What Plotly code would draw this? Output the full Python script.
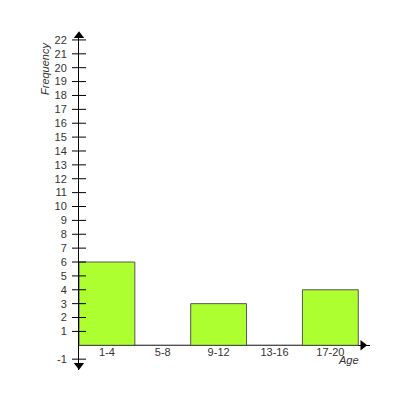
import plotly.graph_objects as go

# Data
age_groups = ["1-4", "5-8", "9-12", "13-16", "17-20"]
frequency = [6, 0, 3, 0, 4]
y_ticks = [-1] + list(range(1, 23))

bar_color = "#adff2f"
font_name = "Liberation Sans, Arial, sans-serif"

x_pos = [i + 0.5 for i in range(len(age_groups))]

fig = go.Figure()

# Bars fill the whole category width
fig.add_trace(go.Bar(
    x=x_pos,
    y=frequency,
    width=1,
    marker=dict(color=bar_color, line=dict(color="#555555", width=1)),
    hoverinfo="skip",
))

# Tick marks crossing the y axis on both sides
fig.add_trace(go.Scatter(
    x=[0] * len(y_ticks),
    y=y_ticks,
    mode="markers",
    marker=dict(symbol="line-ew", size=10, line=dict(color="black", width=1)),
    cliponaxis=False,
    hoverinfo="skip",
))

# Category labels just under the x axis line
fig.add_trace(go.Scatter(
    x=x_pos,
    y=[-0.56] * len(age_groups),
    mode="text",
    text=age_groups,
    textfont=dict(family=font_name, size=11, color="#333333"),
    cliponaxis=False,
    hoverinfo="skip",
))

# Arrow heads on the axes
fig.add_trace(go.Scatter(
    x=[0, 0, 5.08],
    y=[22.3, -1.43, 0],
    mode="markers",
    marker=dict(symbol=["triangle-up", "triangle-down", "triangle-right"],
                size=9, color="black"),
    cliponaxis=False,
    hoverinfo="skip",
))

fig.update_layout(
    width=400,
    height=400,
    showlegend=False,
    plot_bgcolor="white",
    paper_bgcolor="white",
    margin=dict(l=71, r=38, t=25, b=38, autoexpand=False),
    font=dict(family=font_name, size=11, color="#333333"),
    xaxis=dict(
        range=[0, 5.21],
        showgrid=False,
        zeroline=False,
        showticklabels=False,
        showline=False,
        automargin=False,
        fixedrange=True,
    ),
    yaxis=dict(
        range=[-1.78, 22.5],
        tickvals=y_ticks,
        ticktext=[str(v) for v in y_ticks],
        ticks="",
        ticklabelstandoff=9,
        showgrid=False,
        zeroline=True,
        zerolinecolor="black",
        zerolinewidth=1,
        showline=True,
        linecolor="black",
        linewidth=1,
        automargin=False,
        fixedrange=True,
    ),
    annotations=[
        dict(text="<i>Frequency</i>", xref="paper", yref="paper",
             x=-0.117, y=0.896, xanchor="center", yanchor="middle",
             textangle=-90, showarrow=False,
             font=dict(size=11, color="#333333")),
        dict(text="<i>Age</i>", xref="x", yref="y",
             x=4.82, y=-1.06, xanchor="center", yanchor="middle",
             showarrow=False,
             font=dict(size=11, color="#333333")),
    ],
)

fig.write_html("out.html")
